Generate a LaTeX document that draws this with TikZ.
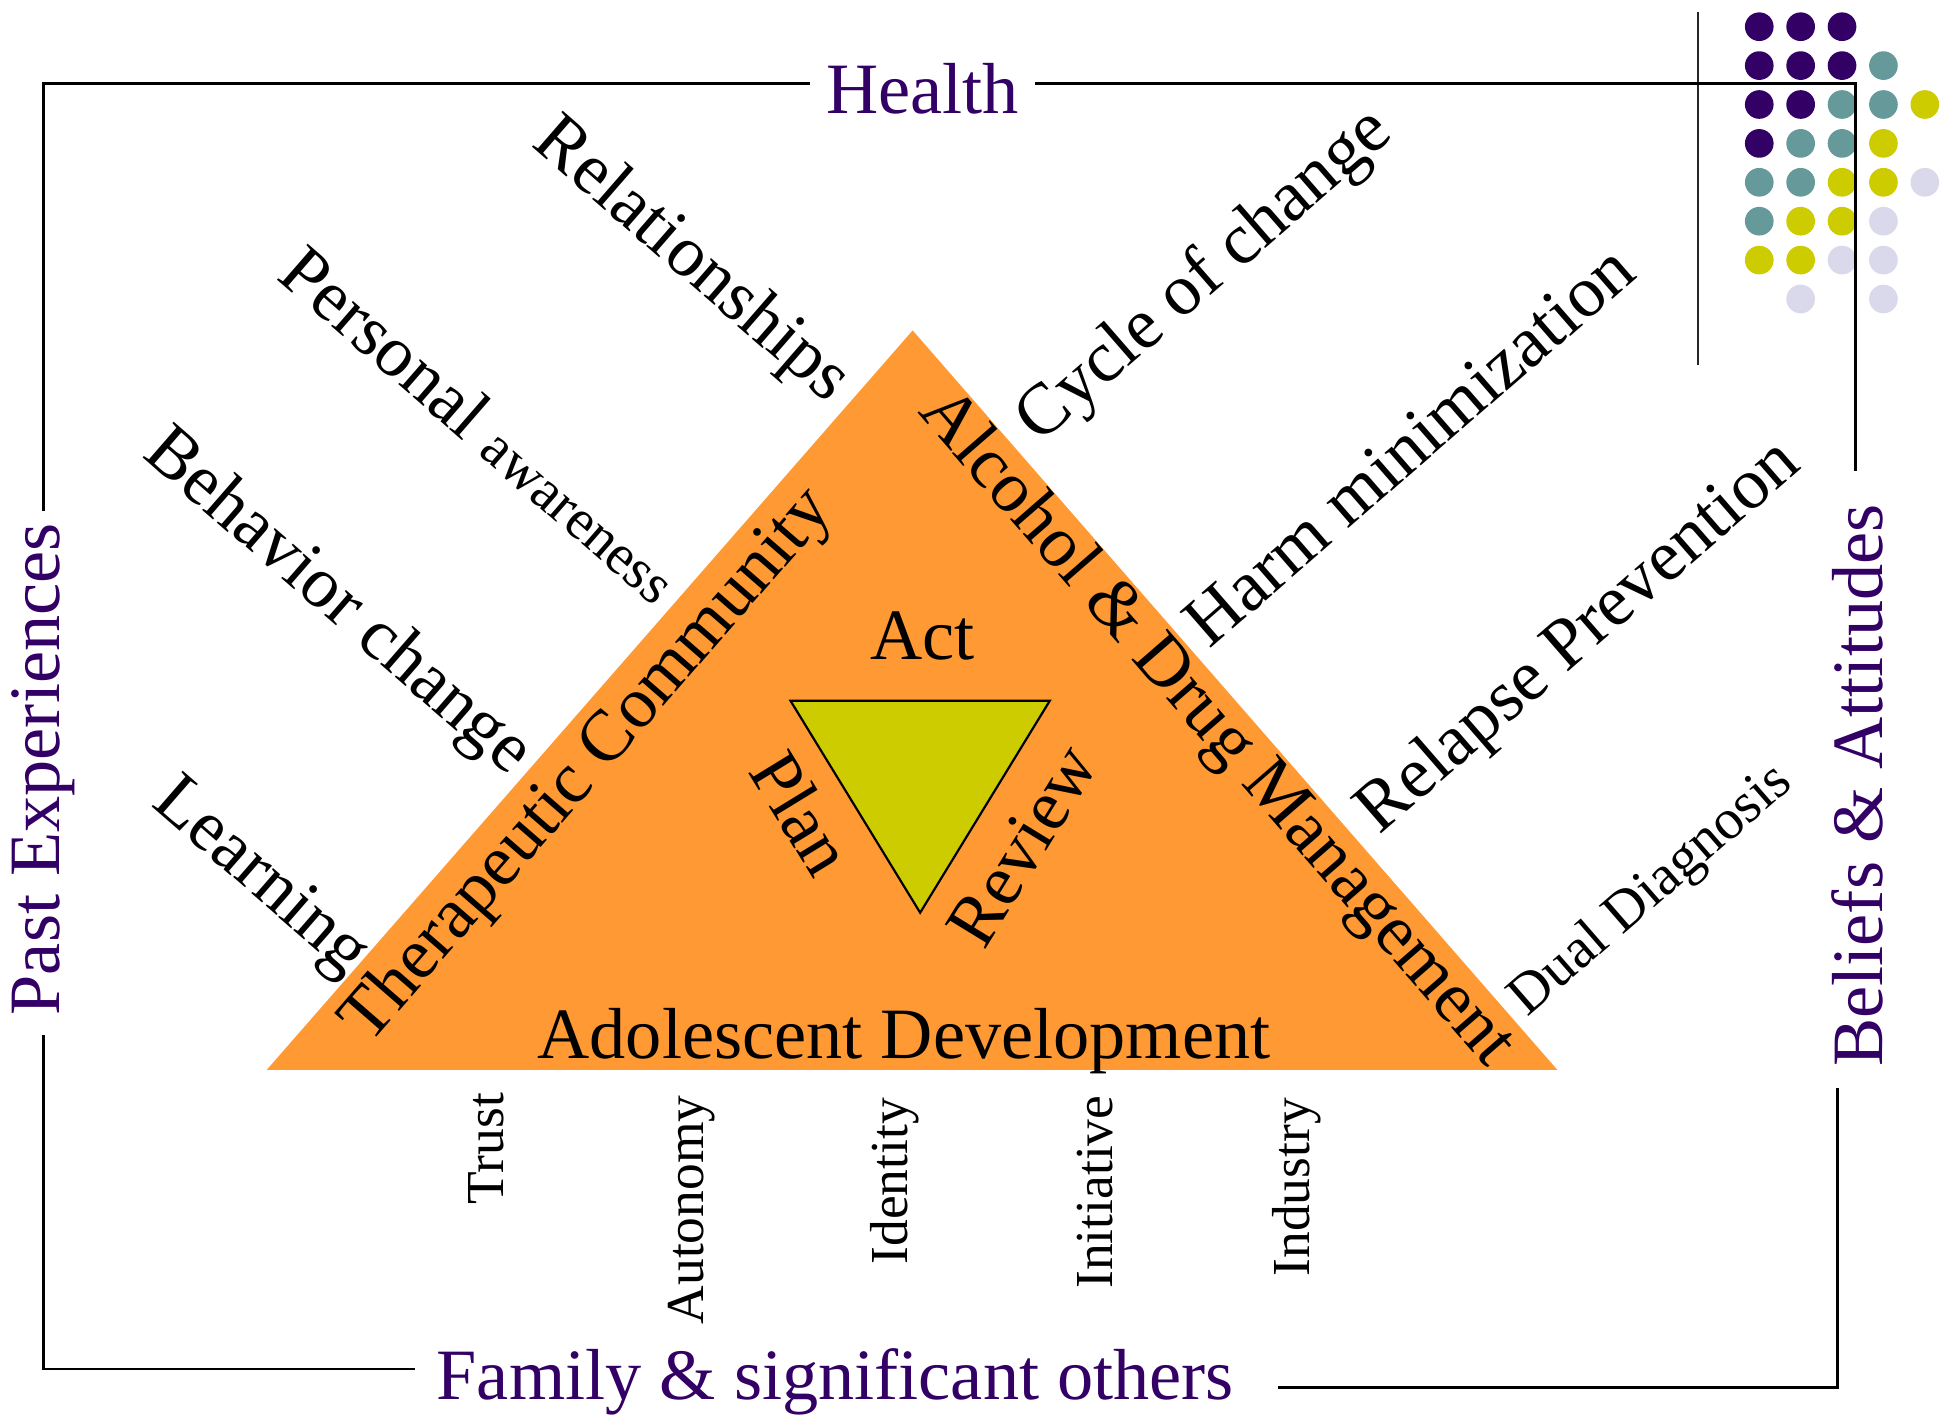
\documentclass[tikz,border=0pt]{standalone}
\usepackage{fontspec}
\setmainfont{Liberation Serif}
\usepackage{tikz}
\definecolor{DeepPurple}{RGB}{51,0,102}
\definecolor{DotTeal}{RGB}{102,153,153}
\definecolor{DotOlive}{RGB}{204,204,0}
\definecolor{DotLavender}{RGB}{217,217,235}
\definecolor{TriOrange}{RGB}{255,153,51}
\tikzset{frame/.style={draw, line width=0.6pt}}
\tikzset{context/.style={text=DeepPurple, font=\fontsize{16.5}{19}\selectfont, inner sep=0pt}}
\tikzset{side/.style={font=\fontsize{16.5}{19}\selectfont, inner sep=0pt}}
\tikzset{topic/.style={font=\fontsize{16.5}{19}\selectfont, inner sep=0pt}}
\tikzset{stage/.style={font=\fontsize{12.2}{14}\selectfont, rotate=90, anchor=east, inner sep=0pt}}

\begin{document}
\begin{tikzpicture}[x=0.1mm, y=-0.1mm]
        \useasboundingbox (0,0) rectangle (1568,1135);

        % corner dots
        \draw[line width=0.5pt, black!85] (1362,10) -- (1362,293);
        \foreach \k/\r in {1/1,2/1,3/1,1/2,2/2,3/2,1/3,2/3,1/4}
          \fill[DeepPurple] (1411+33.2*\k-33.2, 21.4+31.2*\r-31.2) circle [radius=1.15mm];
        \foreach \k/\r in {4/2,3/3,4/3,2/4,3/4,1/5,2/5,1/6}
          \fill[DotTeal] (1411+33.2*\k-33.2, 21.4+31.2*\r-31.2) circle [radius=1.15mm];
        \foreach \k/\r in {5/3,4/4,3/5,4/5,2/6,3/6,1/7,2/7}
          \fill[DotOlive] (1411+33.2*\k-33.2, 21.4+31.2*\r-31.2) circle [radius=1.15mm];
        \foreach \k/\r in {5/5,4/6,3/7,4/7,2/8,4/8}
          \fill[DotLavender] (1411+33.2*\k-33.2, 21.4+31.2*\r-31.2) circle [radius=1.15mm];

        % frame
        \node[context] (health) at (740,71) {Health};
        \node[context, rotate=90] (past) at (35,617) {Past Experiences};
        \node[context, rotate=90] (beliefs) at (1490,630) {Beliefs \& Attitudes};
        \node[context] (family) at (670,1108) {Family \& significant others};

        \coordinate (tl) at (35,67);
        \coordinate (tr) at (1488,67);
        \coordinate (bl) at (35,1098);
        \coordinate (br) at (1474,1113);

        \path[frame] (650,67) -- (tl) -- (35,410);
        \path[frame] (830,67) -- (tr) -- (1488,378);
        \path[frame] (35,830) -- (bl) -- (333,1098);
        \path[frame] (1025,1113) -- (br) -- (1474,873);

        % triangles
        \fill[TriOrange] (214,858) -- (732,265) -- (1249,858) -- cycle;
        \filldraw[fill=DotOlive, draw=black, line width=0.5pt] (634,562) -- (842,562) -- (738,732) -- cycle;

        \node[side, rotate=49]  (tc)   at (472,615) {Therapeutic Community};
        \node[side, rotate=-49] (adm)  at (975,585) {Alcohol \& Drug Management};
        \node[side]             (adol) at (725,835) {Adolescent Development};
        \node[side]             (act)  at (740,510) {Act};
        \node[side, rotate=-58.5] (plan)   at (643,652) {Plan};
        \node[side, rotate=58.5]  (review) at (820,678) {Review};

        % left topics
        \node[topic, rotate=-41] (rel)   at (554,210) {Relationships};
        \node[topic, rotate=-41] (pers)  at (386,340) {Personal {\fontsize{13}{15}\selectfont awareness}};
        \node[topic, rotate=-41] (behav) at (270,484) {Behavior change};
        \node[topic, rotate=-41] (learn) at (208,705) {Learning};

        % right topics
        \node[topic, rotate=41] (cycle)   at (967,222) {Cycle of change};
        \node[topic, rotate=41] (harm)    at (1130,357) {Harm minimization};
        \node[topic, rotate=41] (relapse) at (1267,512) {Relapse Prevention};
        \node[topic, rotate=41, font=\fontsize{13}{15}\selectfont] (dual) at (1325,715) {Dual Diagnosis};

        % stages
        \node[stage] (trust)    at (390,876)  {Trust};
        \node[stage] (autonomy) at (555,878)  {Autonomy};
        \node[stage] (identity) at (718,880)  {Identity};
        \node[stage] (initiat)  at (878,878)  {Initiative};
        \node[stage] (industry) at (1040,880) {Industry};
\end{tikzpicture}
\end{document}
